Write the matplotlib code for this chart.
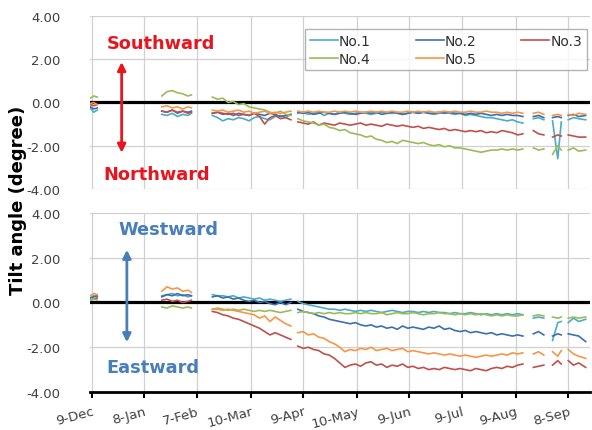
import numpy as np
import matplotlib
matplotlib.use("Agg")
import matplotlib.pyplot as plt

# days since 9-Dec; nan rows are gaps in the record
days = [-1, 1, 3, 20,
        40, 43, 46, 49, 52, 55, 57, 63,
        69, 72, 75, 78, 81, 84, 87, 90, 93, 96, 99, 102, 105, 108, 111, 114, 116,
        118, 121, 124, 127, 130, 133, 136, 139, 142, 145, 148, 151, 154, 157, 160,
        163, 166, 169, 172, 175, 178, 181, 184, 187, 190, 193, 196, 199, 202, 205,
        208, 211, 214, 217, 220, 223, 226, 229, 232, 235, 238, 241, 244, 247, 250,
        253, 256, 259, 262,
        264, 267, 269, 271,
        273, 276, 279, 283]

tick_days = [0, 30, 60, 91, 121, 152, 182, 212, 243, 273]
tick_labels = ["9-Dec", "8-Jan", "7-Feb", "10-Mar", "9-Apr", "10-May",
               "9-Jun", "9-Jul", "9-Aug", "8-Sep"]
names = ["No.1", "No.2", "No.3", "No.4", "No.5"]
colors = ["#4BACC6", "#3D6FB0", "#C0504D", "#9BBB59", "#F79646"]

G = None
# north-south tilt (top panel)
ns_1 = [-0.25, -0.45, -0.35, G,
        -0.55, -0.6, -0.5, -0.65, -0.55, -0.6, -0.5, G,
        -0.6, -0.7, -0.85, -0.75, -0.8, -0.7, -0.75, -0.85, -0.7, -0.65, -0.75, -0.8, -0.65, -0.6, -0.7, -0.55, G,
        -0.5, -0.45, -0.55, -0.5, -0.45, -0.6, -0.5, -0.55, -0.45, -0.5, -0.55, -0.5, -0.45, -0.5, -0.55,
        -0.5, -0.45, -0.5, -0.5, -0.45, -0.55, -0.5, -0.45, -0.5, -0.45, -0.5, -0.55, -0.5, -0.45, -0.5,
        -0.55, -0.5, -0.6, -0.55, -0.6, -0.65, -0.7, -0.7, -0.75, -0.8, -0.85, -0.8, -0.9, -0.95, G,
        -0.75, -0.7, -0.8, G,
        -0.85, -2.6, -0.9, G,
        -0.8, -0.7, -0.75, -0.8]
ns_2 = [-0.2, -0.3, -0.25, G,
        -0.4, -0.45, -0.35, -0.5, -0.4, -0.45, -0.4, G,
        -0.5, -0.45, -0.55, -0.5, -0.6, -0.5, -0.55, -0.6, -0.5, -0.55, -0.6, -0.5, -0.55, -0.65, -0.6, -0.55, G,
        -0.45, -0.5, -0.45, -0.55, -0.5, -0.45, -0.5, -0.55, -0.5, -0.45, -0.5, -0.55, -0.5, -0.45, -0.5,
        -0.45, -0.55, -0.5, -0.45, -0.5, -0.55, -0.5, -0.45, -0.5, -0.45, -0.5, -0.5, -0.45, -0.5, -0.45,
        -0.5, -0.5, -0.55, -0.5, -0.55, -0.5, -0.55, -0.6, -0.55, -0.6, -0.55, -0.6, -0.6, -0.65, G,
        -0.65, -0.6, -0.7, G,
        -0.7, -0.65, -0.7, G,
        -0.6, -0.55, -0.65, -0.6]
ns_3 = [-0.1, -0.15, -0.1, G,
        -0.4, -0.45, -0.35, -0.45, -0.4, -0.5, -0.45, G,
        -0.5, -0.45, -0.5, -0.55, -0.5, -0.6, -0.55, -0.6, -0.5, -0.65, -1.0, -0.7, -0.6, -0.75, -0.7, -0.8, G,
        -0.9, -0.95, -1.0, -0.9, -1.05, -0.95, -1.0, -1.05, -0.95, -1.0, -1.05, -1.0, -0.95, -1.05, -1.0,
        -1.05, -1.1, -1.0, -1.05, -1.1, -1.05, -1.1, -1.15, -1.1, -1.2, -1.15, -1.2, -1.25, -1.2, -1.3,
        -1.25, -1.3, -1.35, -1.3, -1.35, -1.3, -1.4, -1.35, -1.4, -1.3, -1.35, -1.4, -1.5, -1.45, G,
        -1.3, -1.45, -1.5, G,
        -1.6, -1.5, -1.55, G,
        -1.5, -1.55, -1.6, -1.6]
ns_4 = [0.2, 0.3, 0.25, G,
        0.3, 0.5, 0.55, 0.45, 0.4, 0.3, 0.35, G,
        0.25, 0.15, 0.2, 0.0, 0.05, -0.1, -0.05, -0.2, -0.25, -0.3, -0.35, -0.45, -0.5, -0.4, -0.55, -0.6, G,
        -0.75, -0.85, -0.9, -0.95, -1.05, -1.0, -1.15, -1.2, -1.3, -1.25, -1.4, -1.45, -1.5, -1.6, -1.55,
        -1.7, -1.75, -1.85, -1.8, -1.9, -1.75, -1.8, -1.85, -1.9, -1.85, -1.95, -2.0, -1.95, -2.05, -2.0,
        -2.1, -2.1, -2.15, -2.2, -2.25, -2.3, -2.25, -2.2, -2.2, -2.15, -2.2, -2.15, -2.2, -2.15, G,
        -2.1, -2.2, -2.15, G,
        -2.4, -2.0, -2.2, G,
        -2.2, -2.1, -2.25, -2.2]
ns_5 = [-0.05, 0.0, -0.1, G,
        -0.2, -0.15, -0.25, -0.2, -0.3, -0.2, -0.25, G,
        -0.35, -0.4, -0.35, -0.45, -0.4, -0.35, -0.45, -0.4, -0.5, -0.45, -0.4, -0.5, -0.45, -0.5, -0.45, -0.4, G,
        -0.4, -0.45, -0.4, -0.45, -0.4, -0.45, -0.45, -0.4, -0.45, -0.4, -0.45, -0.4, -0.45, -0.45, -0.4,
        -0.45, -0.4, -0.45, -0.4, -0.45, -0.45, -0.4, -0.45, -0.4, -0.45, -0.4, -0.45, -0.45, -0.4, -0.45,
        -0.4, -0.45, -0.45, -0.4, -0.45, -0.45, -0.4, -0.45, -0.45, -0.5, -0.45, -0.5, -0.45, -0.5, G,
        -0.5, -0.45, -0.55, G,
        -0.6, -0.55, -0.6, G,
        -0.55, -0.6, -0.5, -0.55]

# east-west tilt (bottom panel)
ew_1 = [0.2, 0.3, 0.25, G,
        0.3, 0.35, 0.4, 0.3, 0.35, 0.25, 0.3, G,
        0.35, 0.3, 0.3, 0.25, 0.3, 0.2, 0.25, 0.2, 0.15, 0.2, 0.1, 0.15, 0.1, 0.05, 0.1, 0.15, G,
        0.05, -0.05, -0.1, -0.15, -0.2, -0.25, -0.3, -0.3, -0.35, -0.3, -0.35, -0.4, -0.35, -0.4, -0.35,
        -0.4, -0.45, -0.4, -0.35, -0.4, -0.45, -0.4, -0.4, -0.45, -0.4, -0.45, -0.4, -0.45, -0.45, -0.5,
        -0.45, -0.5, -0.5, -0.45, -0.5, -0.55, -0.5, -0.55, -0.5, -0.55, -0.5, -0.55, -0.5, -0.55, G,
        -0.7, -0.65, -0.7, G,
        -1.7, -0.9, -0.85, G,
        -0.9, -0.7, -0.85, -0.75]
ew_2 = [0.2, 0.25, 0.3, G,
        0.25, 0.35, 0.3, 0.4, 0.3, 0.35, 0.3, G,
        0.25, 0.3, 0.2, 0.25, 0.15, 0.2, 0.1, 0.05, 0.1, 0.0, 0.05, -0.05, -0.1, 0.0, -0.1, 0.0, G,
        -0.3, -0.4, -0.45, -0.5, -0.6, -0.65, -0.75, -0.8, -0.85, -0.9, -0.95, -0.9, -1.0, -1.05, -1.0,
        -1.1, -1.05, -1.15, -1.1, -1.2, -1.05, -1.15, -1.1, -1.15, -1.2, -1.1, -1.15, -1.05, -1.2, -1.15,
        -1.25, -1.3, -1.25, -1.35, -1.3, -1.35, -1.4, -1.35, -1.45, -1.4, -1.45, -1.5, -1.45, -1.5, G,
        -1.4, -1.3, -1.45, G,
        -1.5, -1.4, -1.45, G,
        -1.4, -1.45, -1.5, -1.75]
ew_3 = [0.1, 0.15, 0.2, G,
        0.1, 0.15, 0.05, 0.1, 0.0, 0.05, 0.1, G,
        -0.4, -0.45, -0.55, -0.6, -0.7, -0.75, -0.85, -0.95, -1.05, -1.15, -1.3, -1.45, -1.35, -1.45, -1.55, -1.65, G,
        -1.95, -2.05, -2.0, -2.1, -2.15, -2.3, -2.35, -2.5, -2.7, -2.9, -2.8, -2.75, -2.85, -2.7, -2.65,
        -2.8, -2.75, -2.9, -2.8, -2.85, -2.75, -2.9, -2.85, -2.95, -2.9, -3.0, -2.95, -3.0, -2.9, -2.95,
        -3.0, -2.95, -3.0, -3.05, -2.95, -3.0, -3.05, -2.95, -2.9, -2.95, -2.85, -2.9, -2.8, -2.75, G,
        -2.9, -2.85, -2.8, G,
        -2.8, -2.6, -2.75, G,
        -2.6, -2.8, -2.7, -2.9]
ew_4 = [0.1, 0.15, 0.1, G,
        -0.2, -0.25, -0.15, -0.2, -0.25, -0.2, -0.25, G,
        -0.3, -0.25, -0.3, -0.35, -0.3, -0.35, -0.3, -0.35, -0.4, -0.35, -0.4, -0.35, -0.4, -0.45, -0.4, -0.35, G,
        -0.45, -0.4, -0.45, -0.5, -0.45, -0.5, -0.45, -0.5, -0.45, -0.5, -0.5, -0.45, -0.5, -0.45, -0.5,
        -0.5, -0.45, -0.55, -0.5, -0.45, -0.5, -0.5, -0.45, -0.5, -0.55, -0.5, -0.5, -0.45, -0.5, -0.5,
        -0.55, -0.5, -0.55, -0.5, -0.55, -0.5, -0.55, -0.6, -0.55, -0.6, -0.55, -0.6, -0.6, -0.55, G,
        -0.6, -0.55, -0.6, G,
        -0.65, -0.7, -0.65, G,
        -0.7, -0.65, -0.7, -0.65]
ew_5 = [0.3, 0.4, 0.35, G,
        0.5, 0.7, 0.6, 0.65, 0.5, 0.55, 0.45, G,
        -0.3, -0.3, -0.35, -0.3, -0.35, -0.4, -0.45, -0.5, -0.55, -0.7, -0.6, -0.85, -0.65, -0.8, -0.95, -1.05, G,
        -1.35, -1.3, -1.45, -1.4, -1.55, -1.6, -1.75, -1.85, -2.0, -2.2, -2.1, -2.15, -2.05, -2.1, -2.0,
        -2.15, -2.1, -2.05, -2.15, -2.1, -2.05, -2.2, -2.15, -2.2, -2.25, -2.3, -2.25, -2.3, -2.35, -2.3,
        -2.35, -2.4, -2.35, -2.4, -2.45, -2.4, -2.35, -2.4, -2.35, -2.3, -2.35, -2.25, -2.3, -2.25, G,
        -2.3, -2.2, -2.35, G,
        -2.2, -2.4, -2.15, G,
        -2.1, -2.3, -2.4, -2.5]


def arr(v):
    return np.array([np.nan if a is None else a for a in v], dtype=float)


fig = plt.figure(figsize=(5.92, 4.31), dpi=100)
ax1 = fig.add_axes([0.152, 0.5592, 0.845, 0.4014])
ax2 = fig.add_axes([0.152, 0.0882, 0.845, 0.4153])

for ax, series in [(ax1, [ns_1, ns_2, ns_3, ns_4, ns_5]),
                   (ax2, [ew_1, ew_2, ew_3, ew_4, ew_5])]:
    lines = []
    for s, c, n in zip(series, colors, names):
        ln, = ax.plot(days, arr(s), color=c, lw=1.2, label=n, zorder=3)
        lines.append(ln)
    ax.set_xlim(-1.15, 285.6)
    ax.set_ylim(-4, 4)
    ax.set_yticks([-4, -2, 0, 2, 4])
    ax.set_yticklabels(["-4.00", "-2.00", "0.00", "2.00", "4.00"])
    ax.set_xticks(tick_days)
    ax.grid(True, color="#D0D0D0", lw=0.9, zorder=0)
    ax.axhline(0, color="black", lw=2.3, zorder=2)
    for sp in ax.spines.values():
        sp.set_visible(False)
    ax.tick_params(axis="y", length=0, labelsize=9.5, labelcolor="#404040", pad=21)

ax1.tick_params(axis="x", length=0, labelbottom=False)
ax2.spines["bottom"].set_visible(True)
ax2.spines["bottom"].set_linewidth(2)
ax2.tick_params(axis="x", length=4, width=1.5, direction="out", labelsize=9.5,
                labelcolor="#404040", pad=5)
ax2.set_xticklabels(tick_labels, rotation=15, ha="right", rotation_mode="anchor")

h = lines
order = [0, 3, 1, 4, 2]
leg = ax1.legend([h[i] for i in order], [names[i] for i in order], ncol=3,
                 loc="lower left", bbox_to_anchor=(0.43, 0.685, 0.564, 0.243),
                 mode="expand", fontsize=10, frameon=True, fancybox=False,
                 edgecolor="#A0A0A0", handlelength=2.0, handletextpad=0.1,
                 borderaxespad=0, labelspacing=0.25, borderpad=0.35)
leg.get_frame().set_linewidth(1.0)
for t in leg.get_texts():
    t.set_color("#303030")

red = "#E8141E"
blue = "#4A7EBB"
ax1.text(39.6, 2.73, "Southward", color=red, fontsize=12.8, fontweight="bold",
         ha="center", va="center")
ax1.text(37.0, -3.33, "Northward", color=red, fontsize=12.8, fontweight="bold",
         ha="center", va="center")
ax1.annotate("", xy=(17.0, 2.0), xytext=(17.0, -2.45),
             arrowprops=dict(arrowstyle="<|-|>", color=red, lw=2,
                             mutation_scale=12))
ax2.text(43.6, 3.29, "Westward", color=blue, fontsize=12.8, fontweight="bold",
         ha="center", va="center")
ax2.text(35.0, -2.88, "Eastward", color=blue, fontsize=12.8, fontweight="bold",
         ha="center", va="center")
ax2.annotate("", xy=(20.0, 2.48), xytext=(20.0, -1.9),
             arrowprops=dict(arrowstyle="<|-|>", color=blue, lw=2,
                             mutation_scale=12))

fig.text(0.03, 0.535, "Tilt angle (degree)", rotation=90, fontsize=13,
         fontweight="bold", ha="center", va="center")

fig.savefig("out.png", dpi=100)
